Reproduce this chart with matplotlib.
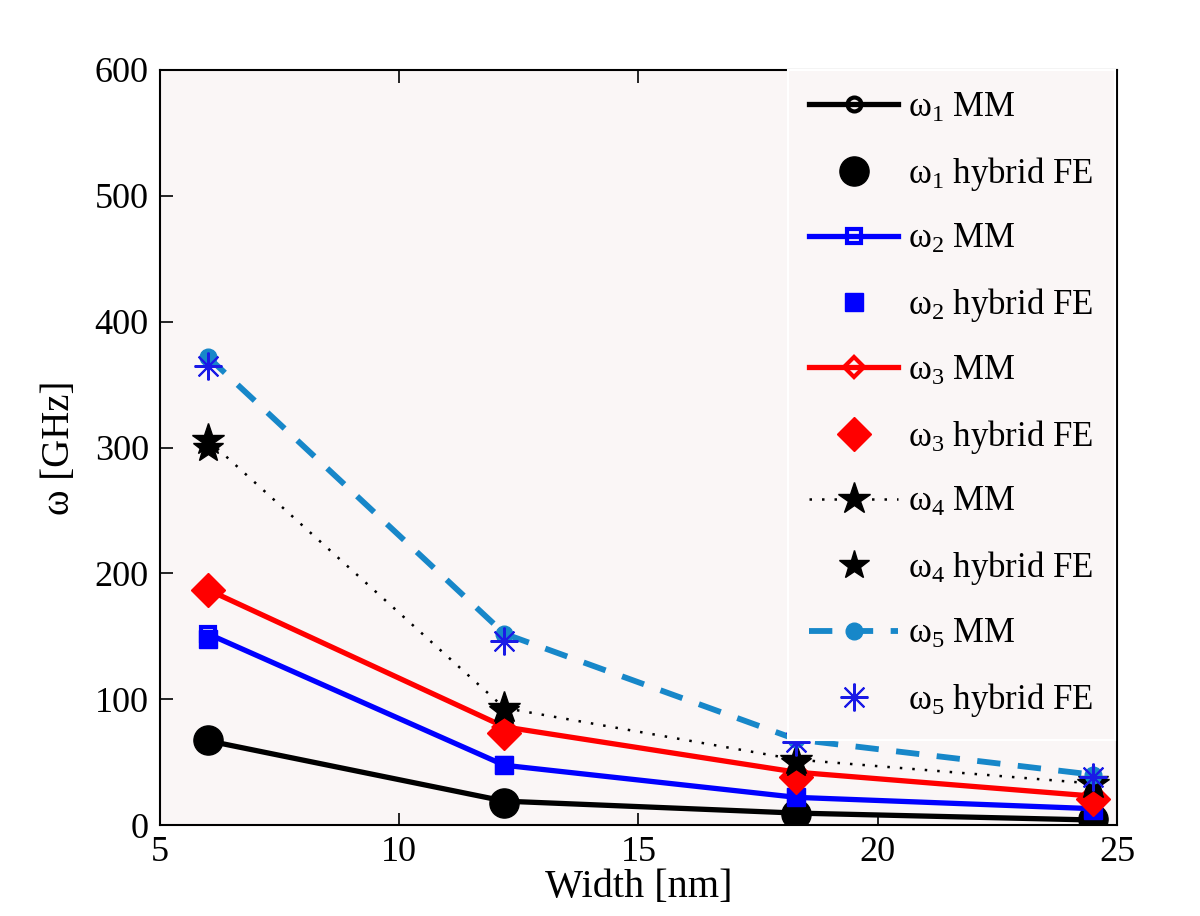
import matplotlib
matplotlib.use("Agg")
import matplotlib.pyplot as plt

plt.rcParams['font.family'] = ['Liberation Serif', 'DejaVu Serif']
plt.rcParams['mathtext.fontset'] = 'custom'
plt.rcParams['mathtext.rm'] = 'Liberation Serif'
plt.rcParams['mathtext.it'] = 'Liberation Serif:italic'

width = [6.0, 12.2, 18.3, 24.5]
w1_mm = [67, 19, 9.5, 4]
w1_fe = [67.5, 17.5, 8.5, 4.5]
w2_mm = [152, 47.5, 22, 13]
w2_fe = [148, 48, 22, 12]
w3_mm = [187, 78, 42, 23]
w3_fe = [187, 73, 38, 21]
w4_mm = [306, 93, 52, 33]
w4_fe = [300, 91, 49, 35]
w5_mm = [372, 152, 68, 40]
w5_fe = [365, 146, 66, 38]

labels = [r'ω$_1$ MM', r'ω$_1$ hybrid FE', r'ω$_2$ MM', r'ω$_2$ hybrid FE',
          r'ω$_3$ MM', r'ω$_3$ hybrid FE', r'ω$_4$ MM', r'ω$_4$ hybrid FE',
          r'ω$_5$ MM', r'ω$_5$ hybrid FE']

cyan = '#1787c9'
fig = plt.figure(figsize=(12, 9.16), dpi=100)
ax = fig.add_axes([0.1333, 0.0993, 0.7975, 0.8243])
ax.set_facecolor('#faf6f6')

ax.plot(width, w1_mm, '-', color='black', lw=3.8, marker='o', ms=10, mfc='none', mew=3, label=labels[0])
ax.plot(width, w1_fe, 'o', color='black', ms=21, ls='none', label=labels[1])
ax.plot(width, w2_mm, '-', color='blue', lw=3.8, marker='s', ms=10, mfc='none', mew=3, label=labels[2])
ax.plot(width, w2_fe, 's', color='blue', ms=13, ls='none', label=labels[3])
ax.plot(width, w3_mm, '-', color='red', lw=3.8, marker='D', ms=10, mfc='none', mew=3, label=labels[4])
ax.plot(width, w3_fe, 'D', color='red', ms=17, ls='none', label=labels[5])
ax.plot(width, w4_mm, color='black', lw=1.8, ls=(0, (1, 4)), marker='*', ms=24, label=labels[6])
ax.plot(width, w4_fe, '*', color='black', ms=22, ls='none', label=labels[7])
ax.plot(width, w5_mm, color=cyan, lw=4.2, ls=(0, (4, 3)), marker='o', ms=12, label=labels[8])
ax.plot(width, w5_fe, marker=(8, 2, 0), color='#1a1ae6', ms=20, mew=1.5, ls='none', label=labels[9])

ax.set_xlim(5, 25)
ax.set_ylim(0, 600)
ax.set_xticks([5, 10, 15, 20, 25])
ax.set_yticks([0, 100, 200, 300, 400, 500, 600])
ax.tick_params(direction='in', length=9, width=1.2, labelsize=26, top=True, right=True, pad=8)
for s in ax.spines.values():
    s.set_linewidth(1.5)

ax.set_xlabel('Width [nm]', fontsize=29, labelpad=0)
ax.set_ylabel('ω [GHz]', fontsize=28, labelpad=12)

leg = ax.legend(loc='upper left', bbox_to_anchor=(0.656, 1.0), fontsize=25, numpoints=1,
                handlelength=2.55, handletextpad=0.3, labelspacing=0.87, borderpad=0.62,
                borderaxespad=0, fancybox=False, frameon=True)
leg.get_frame().set_facecolor('#faf6f6')
leg.get_frame().set_edgecolor('white')
leg.get_frame().set_linewidth(1.5)
leg.get_frame().set_alpha(1)

fig.savefig('out.png', dpi=100)
